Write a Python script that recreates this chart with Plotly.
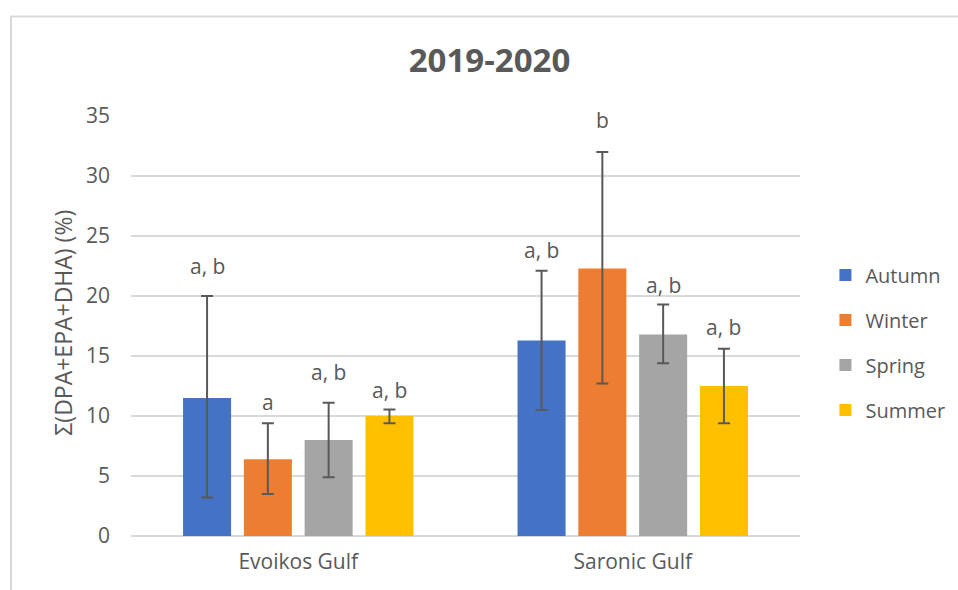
import plotly.graph_objects as go

# Sampling sites and seasons
gulfs = ["Evoikos Gulf", "Saronic Gulf"]
seasons = ["Autumn", "Winter", "Spring", "Summer"]

# Mean Σ(DPA+EPA+DHA) (%) per season, one value per gulf
autumn = [11.5, 16.3]
winter = [6.4, 22.3]
spring = [8.0, 16.8]
summer = [10.0, 12.5]

# Error bar extents (upper / lower)
autumn_up = [8.5, 5.8]
autumn_dn = [8.3, 5.8]
winter_up = [3.0, 9.7]
winter_dn = [2.9, 9.6]
spring_up = [3.1, 2.5]
spring_dn = [3.1, 2.4]
summer_up = [0.55, 3.1]
summer_dn = [0.6, 3.1]

# Statistical grouping letters
autumn_lbl = ["a, b", "a, b"]
winter_lbl = ["a", "b"]
spring_lbl = ["a, b", "a, b"]
summer_lbl = ["a, b", "a, b"]

values = [autumn, winter, spring, summer]
ups = [autumn_up, winter_up, spring_up, summer_up]
dns = [autumn_dn, winter_dn, spring_dn, summer_dn]
letters = [autumn_lbl, winter_lbl, spring_lbl, summer_lbl]

colors = ["#4472C4", "#ED7D31", "#A5A5A5", "#FFC000"]
FONT = "Open Sans"
TXT = "#595959"

# pixel lift of each letter above its error bar
lift = [[30, 21], [21, 32], [31, 19], [19, 22]]

BARGAP = 0.273
BARGROUPGAP = 0.21

fig = go.Figure()
for i, s in enumerate(seasons):
    fig.add_trace(go.Bar(
        name=s, x=gulfs, y=values[i],
        marker=dict(color=colors[i], line=dict(width=0)),
        error_y=dict(type="data", symmetric=False, array=ups[i], arrayminus=dns[i],
                     color="#595959", thickness=2, width=6),
        legendgroup=s,
    ))

# letters above each error bar
slot = (1 - BARGAP) / len(seasons)
annotations = []
for i in range(len(seasons)):
    off = (i - (len(seasons) - 1) / 2) * slot
    for j in range(len(gulfs)):
        annotations.append(dict(
            x=j + off, y=values[i][j] + ups[i][j], xref="x", yref="y",
            text=letters[i][j], showarrow=False, yanchor="middle",
            yshift=lift[i][j], font=dict(family=FONT, size=21, color=TXT),
        ))

# y-axis title
annotations.append(dict(
    x=-0.1016, y=0.508, xref="paper", yref="paper", text="Σ(DPA+EPA+DHA) (%)",
    textangle=-90, showarrow=False, xanchor="center", yanchor="middle",
    font=dict(family=FONT, size=23, color=TXT),
))

fig.update_layout(
    width=958, height=590,
    margin=dict(l=131, r=158, t=116, b=54, autoexpand=False),
    paper_bgcolor="white", plot_bgcolor="white",
    barmode="group", bargap=BARGAP, bargroupgap=BARGROUPGAP,
    title=dict(text="<b>2019-2020</b>", x=489.5 / 958, xanchor="center",
               y=1 - 60 / 590, yanchor="middle",
               font=dict(family=FONT, size=33, color=TXT)),
    xaxis=dict(type="category", showgrid=False, showline=False, zeroline=False,
               ticks="", tickfont=dict(family=FONT, size=21, color=TXT),
               ticklabelstandoff=11),
    yaxis=dict(range=[0, 35], dtick=5, showgrid=True, gridcolor="#D9D9D9", gridwidth=1.5,
               zeroline=True, zerolinecolor="#D9D9D9", zerolinewidth=1.5,
               showline=False, ticks="", ticklabelstandoff=20,
               tickfont=dict(family=FONT, size=21, color=TXT)),
    legend=dict(x=1.038, xanchor="left", y=0.4607, yanchor="middle",
                font=dict(family=FONT, size=20, color=TXT),
                traceorder="grouped", tracegroupgap=16, itemwidth=30,
                bgcolor="rgba(0,0,0,0)"),
    annotations=annotations,
    shapes=[dict(type="rect", xref="paper", yref="paper",
                 x0=(11 - 131) / 669, x1=(970 - 131) / 669,
                 y0=(536 - 600) / 420, y1=(536 - 16.5) / 420,
                 line=dict(color="#D9D9D9", width=2), layer="below")],
)

fig.write_html("out.html")
